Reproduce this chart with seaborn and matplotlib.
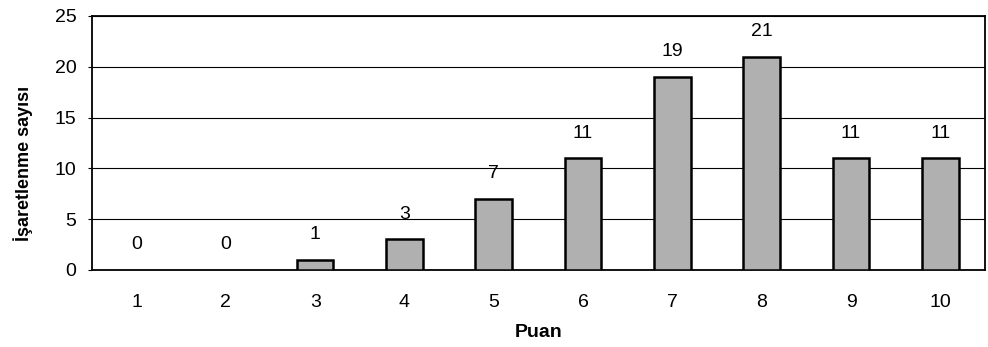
import matplotlib
matplotlib.use("Agg")
import matplotlib.pyplot as plt
import seaborn as sns
import pandas as pd

puan = ["1", "2", "3", "4", "5", "6", "7", "8", "9", "10"]
sayi = [0, 0, 1, 3, 7, 11, 19, 21, 11, 11]
y_ticks = [0, 5, 10, 15, 20, 25]

sns.set_theme(style="white")
plt.rcParams["font.family"] = ["Liberation Sans", "DejaVu Sans"]

df = pd.DataFrame({"Puan": puan, "Sayi": sayi})

fig = plt.figure(figsize=(9.88, 3.47), dpi=100)
ax = fig.add_axes([0.093, 0.222, 0.904, 0.732])

sns.barplot(data=df, x="Puan", y="Sayi", order=puan, color="#b0b0b0",
            saturation=1, width=0.41, edgecolor="black", linewidth=1.8,
            ax=ax, zorder=3)

# empty categories get no outline
for patch, v in zip(ax.patches, sayi):
    if v == 0:
        patch.set_linewidth(0)

ax.set_ylim(0, 25)
ax.set_xlim(-0.5, len(puan) - 0.5)
ax.set_yticks(y_ticks)
ax.yaxis.grid(True, color="black", linewidth=0.8, zorder=0)
ax.xaxis.grid(False)
ax.set_axisbelow(True)

for s in ax.spines.values():
    s.set_visible(True)
    s.set_color("black")
    s.set_linewidth(1.3)

ax.tick_params(axis="y", labelsize=14, length=3, width=0.8, color="black",
               left=True, pad=8, labelcolor="black")
ax.tick_params(axis="x", labelsize=14, length=0, pad=17, labelcolor="black")

for i, v in enumerate(sayi):
    ax.annotate(str(v), (i, v), xytext=(0, 18), textcoords="offset points",
                ha="center", va="center", fontsize=14, color="black")

ax.set_xlabel("Puan", fontsize=14, fontweight="bold", color="black", labelpad=10)
ax.set_ylabel("İşaretlenme sayısı", fontsize=13, fontweight="bold", color="black")
ax.yaxis.set_label_coords(-0.066, 0.42)

fig.savefig("out.png", dpi=100)
